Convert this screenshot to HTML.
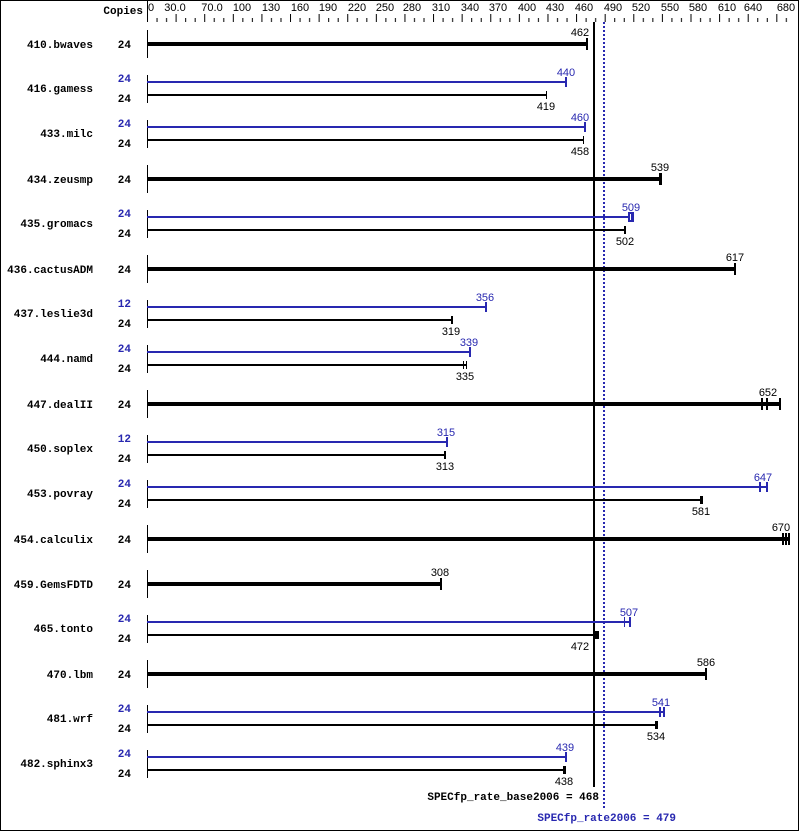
<!DOCTYPE html>
<html><head><meta charset="utf-8"><style>
body{margin:0;background:#fff}
svg{display:block}
.n{font:bold 11px "Liberation Mono",monospace}
.v{font:11px "Liberation Sans",sans-serif}
.t{font:11px "Liberation Sans",sans-serif}
</style></head><body>
<svg width="799" height="831" viewBox="0 0 799 831" xmlns="http://www.w3.org/2000/svg">
<defs>
<pattern id="tk" x="147" y="0" width="28.605" height="831" patternUnits="userSpaceOnUse">
<rect x="0" y="14" width="1" height="8" fill="#000"/>
<rect x="9.535" y="18" width="1" height="4" fill="#000"/>
<rect x="19.07" y="18" width="1" height="4" fill="#000"/>
</pattern>
</defs>
<rect x="0.5" y="0.5" width="798" height="830" fill="#fff" stroke="#000"/>
<rect x="147" y="0" width="645" height="23" fill="url(#tk)"/>
<rect x="147" y="0" width="1" height="22" fill="#000"/>
<text class="n" x="143" y="14" text-anchor="end">Copies</text>
<g class="t" text-anchor="middle">
<text x="151" y="11">0</text><text x="175" y="11">30.0</text><text x="212" y="11">70.0</text><text x="242" y="11">100</text><text x="271" y="11">130</text><text x="300" y="11">160</text><text x="328" y="11">190</text><text x="357" y="11">220</text><text x="385" y="11">250</text><text x="412" y="11">280</text><text x="441" y="11">310</text><text x="470" y="11">340</text><text x="498" y="11">370</text><text x="527" y="11">400</text><text x="555" y="11">430</text><text x="584" y="11">460</text><text x="613" y="11">490</text><text x="641" y="11">520</text><text x="670" y="11">550</text><text x="698" y="11">580</text><text x="727" y="11">610</text><text x="753" y="11">640</text><text x="786" y="11">680</text>
</g>
<rect x="593" y="22" width="2" height="765" fill="#000"/>
<line x1="604" y1="22" x2="604" y2="808" stroke="#2828b0" stroke-width="2" stroke-dasharray="2,2"/>
<text class="n" x="599" y="800" text-anchor="end">SPECfp_rate_base2006 = 468</text>
<text class="n" x="676" y="821" text-anchor="end" fill="#2828b0">SPECfp_rate2006 = 479</text>

<g><text class="n" x="93" y="48" text-anchor="end">410.bwaves</text><text class="n" x="131" y="48" text-anchor="end">24</text>
<rect x="147" y="30" width="1" height="28" fill="#000"/><rect x="147" y="42" width="440" height="4" fill="#000"/><rect x="586" y="38" width="2" height="12" fill="#000"/><text class="v" x="580" y="36" text-anchor="middle">462</text></g>
<g><text class="n" x="93" y="92" text-anchor="end">416.gamess</text><text class="n" x="131" y="82" text-anchor="end" fill="#2828b0">24</text><text class="n" x="131" y="102" text-anchor="end">24</text>
<rect x="147" y="75" width="1" height="28" fill="#000"/><rect x="147" y="81" width="420" height="2" fill="#2828b0"/><rect x="565" y="77" width="2" height="10" fill="#2828b0"/><text class="v" x="566" y="76" text-anchor="middle" fill="#2828b0">440</text>
<rect x="147" y="94" width="400" height="2" fill="#000"/><rect x="546" y="91" width="1" height="8" fill="#000"/><text class="v" x="546" y="110" text-anchor="middle">419</text></g>
<g><text class="n" x="93" y="137" text-anchor="end">433.milc</text><text class="n" x="131" y="127" text-anchor="end" fill="#2828b0">24</text><text class="n" x="131" y="147" text-anchor="end">24</text>
<rect x="147" y="120" width="1" height="28" fill="#000"/><rect x="147" y="126" width="439" height="2" fill="#2828b0"/><rect x="584" y="122" width="2" height="10" fill="#2828b0"/><text class="v" x="580" y="121" text-anchor="middle" fill="#2828b0">460</text>
<rect x="147" y="139" width="437" height="2" fill="#000"/><rect x="583" y="136" width="1" height="8" fill="#000"/><text class="v" x="580" y="155" text-anchor="middle">458</text></g>
<g><text class="n" x="93" y="183" text-anchor="end">434.zeusmp</text><text class="n" x="131" y="183" text-anchor="end">24</text>
<rect x="147" y="165" width="1" height="28" fill="#000"/><rect x="147" y="177" width="514" height="4" fill="#000"/><rect x="659" y="173" width="3" height="12" fill="#000"/><text class="v" x="660" y="171" text-anchor="middle">539</text></g>
<g><text class="n" x="93" y="227" text-anchor="end">435.gromacs</text><text class="n" x="131" y="217" text-anchor="end" fill="#2828b0">24</text><text class="n" x="131" y="237" text-anchor="end">24</text>
<rect x="147" y="210" width="1" height="28" fill="#000"/><rect x="147" y="216" width="485" height="2" fill="#2828b0"/><rect x="628" y="212" width="6" height="10" fill="#2828b0"/><rect x="630" y="214" width="1" height="6" fill="#fff"/><text class="v" x="631" y="211" text-anchor="middle" fill="#2828b0">509</text>
<rect x="147" y="229" width="478" height="2" fill="#000"/><rect x="624" y="226" width="2" height="8" fill="#000"/><text class="v" x="625" y="245" text-anchor="middle">502</text></g>
<g><text class="n" x="93" y="273" text-anchor="end">436.cactusADM</text><text class="n" x="131" y="273" text-anchor="end">24</text>
<rect x="147" y="255" width="1" height="28" fill="#000"/><rect x="147" y="267" width="588" height="4" fill="#000"/><rect x="734" y="263" width="2" height="12" fill="#000"/><text class="v" x="735" y="261" text-anchor="middle">617</text></g>
<g><text class="n" x="93" y="317" text-anchor="end">437.leslie3d</text><text class="n" x="131" y="307" text-anchor="end" fill="#2828b0">12</text><text class="n" x="131" y="327" text-anchor="end">24</text>
<rect x="147" y="300" width="1" height="28" fill="#000"/><rect x="147" y="306" width="339" height="2" fill="#2828b0"/><rect x="485" y="302" width="2" height="10" fill="#2828b0"/><text class="v" x="485" y="301" text-anchor="middle" fill="#2828b0">356</text>
<rect x="147" y="319" width="304" height="2" fill="#000"/><rect x="451" y="316" width="2" height="8" fill="#000"/><text class="v" x="451" y="335" text-anchor="middle">319</text></g>
<g><text class="n" x="93" y="362" text-anchor="end">444.namd</text><text class="n" x="131" y="352" text-anchor="end" fill="#2828b0">24</text><text class="n" x="131" y="372" text-anchor="end">24</text>
<rect x="147" y="345" width="1" height="28" fill="#000"/><rect x="147" y="351" width="323" height="2" fill="#2828b0"/><rect x="469" y="347" width="2" height="10" fill="#2828b0"/><text class="v" x="469" y="346" text-anchor="middle" fill="#2828b0">339</text>
<rect x="147" y="364" width="319" height="2" fill="#000"/><rect x="463" y="361" width="1" height="8" fill="#000"/><rect x="466" y="361" width="1" height="8" fill="#000"/><text class="v" x="465" y="380" text-anchor="middle">335</text></g>
<g><text class="n" x="93" y="408" text-anchor="end">447.dealII</text><text class="n" x="131" y="408" text-anchor="end">24</text>
<rect x="147" y="390" width="1" height="28" fill="#000"/><rect x="147" y="402" width="633" height="4" fill="#000"/><rect x="761" y="398" width="2" height="12" fill="#000"/><rect x="766" y="398" width="2" height="12" fill="#000"/><rect x="779" y="398" width="2" height="12" fill="#000"/><text class="v" x="768" y="396" text-anchor="middle">652</text></g>
<g><text class="n" x="93" y="452" text-anchor="end">450.soplex</text><text class="n" x="131" y="442" text-anchor="end" fill="#2828b0">12</text><text class="n" x="131" y="462" text-anchor="end">24</text>
<rect x="147" y="435" width="1" height="28" fill="#000"/><rect x="147" y="441" width="300" height="2" fill="#2828b0"/><rect x="446" y="437" width="2" height="10" fill="#2828b0"/><text class="v" x="446" y="436" text-anchor="middle" fill="#2828b0">315</text>
<rect x="147" y="454" width="298" height="2" fill="#000"/><rect x="444" y="451" width="2" height="8" fill="#000"/><text class="v" x="445" y="470" text-anchor="middle">313</text></g>
<g><text class="n" x="93" y="497" text-anchor="end">453.povray</text><text class="n" x="131" y="487" text-anchor="end" fill="#2828b0">24</text><text class="n" x="131" y="507" text-anchor="end">24</text>
<rect x="147" y="480" width="1" height="28" fill="#000"/><rect x="147" y="486" width="621" height="2" fill="#2828b0"/><rect x="759" y="482" width="2" height="10" fill="#2828b0"/><rect x="766" y="482" width="2" height="10" fill="#2828b0"/><text class="v" x="763" y="481" text-anchor="middle" fill="#2828b0">647</text>
<rect x="147" y="499" width="555" height="2" fill="#000"/><rect x="700" y="496" width="3" height="8" fill="#000"/><text class="v" x="701" y="515" text-anchor="middle">581</text></g>
<g><text class="n" x="93" y="543" text-anchor="end">454.calculix</text><text class="n" x="131" y="543" text-anchor="end">24</text>
<rect x="147" y="525" width="1" height="28" fill="#000"/><rect x="147" y="537" width="641" height="4" fill="#000"/><rect x="782" y="533" width="2" height="12" fill="#000"/><rect x="785" y="533" width="2" height="12" fill="#000"/><rect x="788" y="533" width="2" height="12" fill="#000"/><text class="v" x="781" y="531" text-anchor="middle">670</text></g>
<g><text class="n" x="93" y="588" text-anchor="end">459.GemsFDTD</text><text class="n" x="131" y="588" text-anchor="end">24</text>
<rect x="147" y="570" width="1" height="28" fill="#000"/><rect x="147" y="582" width="294" height="4" fill="#000"/><rect x="440" y="578" width="2" height="12" fill="#000"/><text class="v" x="440" y="576" text-anchor="middle">308</text></g>
<g><text class="n" x="93" y="632" text-anchor="end">465.tonto</text><text class="n" x="131" y="622" text-anchor="end" fill="#2828b0">24</text><text class="n" x="131" y="642" text-anchor="end">24</text>
<rect x="147" y="615" width="1" height="28" fill="#000"/><rect x="147" y="621" width="483" height="2" fill="#2828b0"/><rect x="624" y="617" width="1" height="10" fill="#2828b0"/><rect x="629" y="617" width="2" height="10" fill="#2828b0"/><text class="v" x="629" y="616" text-anchor="middle" fill="#2828b0">507</text>
<rect x="147" y="634" width="450" height="2" fill="#000"/><rect x="594" y="631" width="5" height="8" fill="#000"/><text class="v" x="580" y="650" text-anchor="middle">472</text></g>
<g><text class="n" x="93" y="678" text-anchor="end">470.lbm</text><text class="n" x="131" y="678" text-anchor="end">24</text>
<rect x="147" y="660" width="1" height="28" fill="#000"/><rect x="147" y="672" width="559" height="4" fill="#000"/><rect x="705" y="668" width="2" height="12" fill="#000"/><text class="v" x="706" y="666" text-anchor="middle">586</text></g>
<g><text class="n" x="93" y="722" text-anchor="end">481.wrf</text><text class="n" x="131" y="712" text-anchor="end" fill="#2828b0">24</text><text class="n" x="131" y="732" text-anchor="end">24</text>
<rect x="147" y="705" width="1" height="28" fill="#000"/><rect x="147" y="711" width="517" height="2" fill="#2828b0"/><rect x="659" y="707" width="2" height="10" fill="#2828b0"/><rect x="663" y="707" width="2" height="10" fill="#2828b0"/><text class="v" x="661" y="706" text-anchor="middle" fill="#2828b0">541</text>
<rect x="147" y="724" width="510" height="2" fill="#000"/><rect x="655" y="721" width="3" height="8" fill="#000"/><text class="v" x="656" y="740" text-anchor="middle">534</text></g>
<g><text class="n" x="93" y="767" text-anchor="end">482.sphinx3</text><text class="n" x="131" y="757" text-anchor="end" fill="#2828b0">24</text><text class="n" x="131" y="777" text-anchor="end">24</text>
<rect x="147" y="750" width="1" height="28" fill="#000"/><rect x="147" y="756" width="419" height="2" fill="#2828b0"/><rect x="565" y="752" width="2" height="10" fill="#2828b0"/><text class="v" x="565" y="751" text-anchor="middle" fill="#2828b0">439</text>
<rect x="147" y="769" width="418" height="2" fill="#000"/><rect x="563" y="766" width="3" height="8" fill="#000"/><text class="v" x="564" y="785" text-anchor="middle">438</text></g>
</svg>
</body></html>
